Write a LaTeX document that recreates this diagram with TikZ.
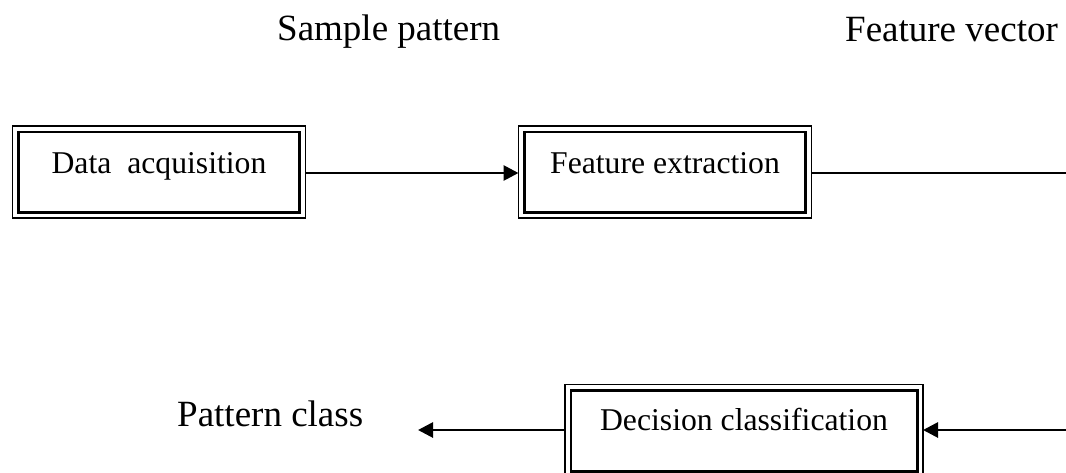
\documentclass[tikz,border=0pt]{standalone}
\usepackage{fontspec}
\setmainfont{Liberation Serif}
\usetikzlibrary{arrows.meta}
\begin{document}
\begin{tikzpicture}[x=1pt,y=-1pt,
  outerbox/.style={draw, line width=1.7pt, inner sep=0pt, outer sep=0pt, minimum height=92pt},
  innerline/.style={line width=2.6pt},
  boxtext/.style={inner sep=0pt, anchor=base, font=\fontsize{31.7}{38}\selectfont},
  labeltext/.style={inner sep=0pt, anchor=base west, font=\fontsize{37}{44}\selectfont},
  conn/.style={line width=2.8pt},
  arr/.style={conn, -{Triangle[length=15pt,width=15pt]}}]
\useasboundingbox (0,0) rectangle (1066,472);
% boxes
\node[outerbox, minimum width=293pt] (b1) at (159,172) {};
\node[outerbox, minimum width=293pt] (b2) at (665,172) {};
\node[outerbox, minimum width=358pt, minimum height=93pt] (b3) at (744,431) {};
\foreach \b in {b1,b2,b3}{
  \draw[innerline] ([shift={(5.8pt,-5.8pt)}]\b.north west) rectangle ([shift={(-5.8pt,5.8pt)}]\b.south east);
}
% texts
\node[boxtext] (t1) at (159,173) {Data\ \ acquisition};
\node[boxtext] (t2) at (665,173) {Feature extraction};
\node[boxtext] (t3) at (744,430) {Decision classification};
\node[labeltext] (l1) at (277,40) {Sample pattern};
\node[labeltext] (l2) at (845,41) {Feature vector};
\node[labeltext] (l3) at (177,426) {Pattern class};
% connectors
\coordinate (r1) at (1066,173);
\coordinate (r2) at (1066,430);
\coordinate (pc) at (418,430);
\draw[arr] (b1.east |- r1) -- (b2.west |- r1);
\draw[conn] (b2.east |- r1) -- (r1);
\draw[arr] (r2) -- (b3.east |- r2);
\draw[arr] (b3.west |- r2) -- (pc);
\end{tikzpicture}
\end{document}
